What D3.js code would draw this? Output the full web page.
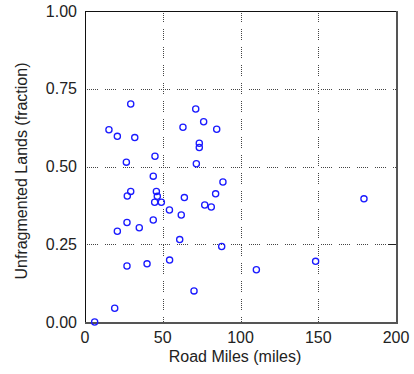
<!DOCTYPE html>
<html>
<head>
<meta charset="utf-8">
<script src="https://cdn.jsdelivr.net/npm/d3@7"></script>
<style>
  html, body { margin: 0; padding: 0; background: #fff; }
  svg { display: block; }
  text { font-family: "Liberation Sans", Arial, sans-serif; fill: #222; }
</style>
</head>
<body>
<svg id="chart" width="414" height="374"></svg>
<script>
// Road miles (x) for each site
const roadMiles = [
  6.2, 19.1, 27, 39.9, 54.4, 20.8, 27, 34.9, 43.9, 54.3,
  29.4, 15.4, 20.8, 32, 26.6, 45, 43.9, 29.4, 27.2, 45.9,
  46.5, 44.8, 49.1, 71.2, 76.3, 63, 84.7, 73.5, 73.5, 71.6,
  88.7, 84, 63.9, 77, 81.2, 61.9, 60.9, 87.9, 70.1, 110.2,
  148.3, 179.4
];
// Unfragmented lands fraction (y) for each site
const unfragmented = [
  0.00, 0.044, 0.18, 0.187, 0.199, 0.292, 0.32, 0.303, 0.328, 0.36,
  0.701, 0.618, 0.597, 0.593, 0.514, 0.533, 0.469, 0.42, 0.405, 0.42,
  0.404, 0.385, 0.385, 0.685, 0.644, 0.626, 0.62, 0.575, 0.561, 0.509,
  0.45, 0.412, 0.40, 0.376, 0.37, 0.344, 0.265, 0.243, 0.10, 0.168,
  0.195, 0.396
];
const xTicks = [0, 50, 100, 150, 200];
const yTicks = [0, 0.25, 0.5, 0.75, 1.0];
const xTitle = "Road Miles (miles)";
const yTitle = "Unfragmented Lands (fraction)";

const svg = d3.select("#chart");
const pL = 85, pR = 396, pT = 11, pB = 322;

const x = d3.scaleLinear().domain([0, 200]).range([pL, pR]);
const y = d3.scaleLinear().domain([0, 1]).range([pB, pT]);

const grid = svg.append("g");
const dash = "1,1,1,1,1,1,1,1,1,1,1,7";
// vertical grid lines
grid.selectAll("line.vg")
  .data(xTicks.filter(d => d > 0 && d < 200))
  .join("line")
  .attr("x1", d => Math.round(x(d)) + 0.5)
  .attr("x2", d => Math.round(x(d)) + 0.5)
  .attr("y1", pT).attr("y2", pB)
  .attr("stroke", "#444").attr("stroke-width", 1)
  .attr("stroke-dasharray", dash)
  .attr("shape-rendering", "crispEdges");
// horizontal grid lines
grid.selectAll("line.hg")
  .data(yTicks.filter(d => d > 0 && d < 1))
  .join("line")
  .attr("y1", d => Math.round(y(d)) + 0.5)
  .attr("y2", d => Math.round(y(d)) + 0.5)
  .attr("x1", pL + 2).attr("x2", pR)
  .attr("stroke", "#444").attr("stroke-width", 1)
  .attr("stroke-dasharray", dash)
  .attr("shape-rendering", "crispEdges");

// right-side inner tick at 0.25
svg.append("line")
  .attr("x1", pR - 8).attr("x2", pR)
  .attr("y1", Math.round(y(0.25)) + 0.5).attr("y2", Math.round(y(0.25)) + 0.5)
  .attr("stroke", "#222").attr("stroke-width", 1)
  .attr("shape-rendering", "crispEdges");

// frame
svg.append("line").attr("x1", pL + 0.5).attr("x2", pL + 0.5).attr("y1", pT).attr("y2", pB + 1)
  .attr("stroke", "#111").attr("stroke-width", 1).attr("shape-rendering", "crispEdges");
svg.append("line").attr("x1", pL).attr("x2", pR + 1).attr("y1", pT + 0.5).attr("y2", pT + 0.5)
  .attr("stroke", "#111").attr("stroke-width", 1).attr("shape-rendering", "crispEdges");
svg.append("line").attr("x1", pR + 1).attr("x2", pR + 1).attr("y1", pT).attr("y2", pB + 2)
  .attr("stroke", "#555").attr("stroke-width", 2).attr("shape-rendering", "crispEdges");
svg.append("line").attr("x1", pL).attr("x2", pR + 2).attr("y1", pB + 1).attr("y2", pB + 1)
  .attr("stroke", "#555").attr("stroke-width", 2).attr("shape-rendering", "crispEdges");

// tick labels
svg.append("g").selectAll("text")
  .data(xTicks)
  .join("text")
  .attr("x", d => x(d))
  .attr("y", 343)
  .attr("text-anchor", "middle")
  .attr("font-size", 16)
  .text(d => d3.format("d")(d));

svg.append("g").selectAll("text")
  .data(yTicks)
  .join("text")
  .attr("x", 77)
  .attr("y", d => y(d) + 5.5)
  .attr("text-anchor", "end")
  .attr("font-size", 16)
  .text(d => d3.format(".2f")(d));

// axis titles
svg.append("text")
  .attr("x", 235).attr("y", 362)
  .attr("text-anchor", "middle")
  .attr("font-size", 16)
  .text(xTitle);

svg.append("text")
  .attr("transform", "translate(27,171) rotate(-90)")
  .attr("text-anchor", "middle")
  .attr("font-size", 16)
  .text(yTitle);

// points
const pts = d3.range(roadMiles.length).map(i => ({ x: roadMiles[i], y: unfragmented[i] }));
svg.append("g").selectAll("circle")
  .data(pts)
  .join("circle")
  .attr("cx", d => x(d.x))
  .attr("cy", d => y(d.y))
  .attr("r", 3.1)
  .attr("fill", "none")
  .attr("stroke", "#1a1aff")
  .attr("stroke-width", 1.3);
</script>
</body>
</html>
